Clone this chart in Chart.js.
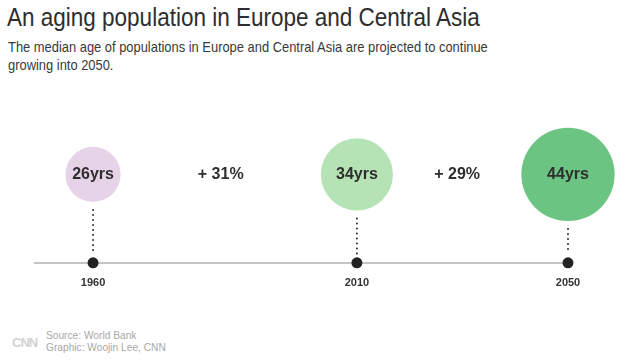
<!DOCTYPE html>
<html>
<head>
<meta charset="utf-8">
<script src="https://cdn.jsdelivr.net/npm/chart.js@4.4.0/dist/chart.umd.min.js"></script>
<style>
  body { margin: 0; width: 624px; height: 363px; background: #fff; position: relative; overflow: hidden; font-family: "Liberation Sans", Arial, sans-serif; }
  #title { position: absolute; left: 7px; top: 3px; font-size: 25px; color: #2e2e2e; white-space: nowrap; transform: scaleX(0.9); transform-origin: 0 0; }
  #sub { position: absolute; left: 8px; top: 38px; font-size: 15px; line-height: 18px; color: #3a3a3a; white-space: nowrap; transform: scaleX(0.86); transform-origin: 0 0; }
  #wrap { position: absolute; left: 0; top: 86px; width: 624px; height: 218px; }
  #logo { position: absolute; left: 12px; top: 335px; font-size: 13px; font-weight: bold; color: #d2d2d2; letter-spacing: -1px; }
  #src { position: absolute; left: 46px; top: 329px; font-size: 10.5px; line-height: 12px; color: #a8a8a8; white-space: nowrap; transform: scaleX(0.97); transform-origin: 0 0; }
</style>
</head>
<body>
<div id="title">An aging population in Europe and Central Asia</div>
<div id="sub">The median age of populations in Europe and Central Asia are projected to continue<br>growing into 2050.</div>
<div id="wrap"><canvas id="ageChart"></canvas></div>
<div id="logo">CNN</div>
<div id="src">Source: World Bank<br>Graphic: Woojin Lee, CNN</div>
<script>
var years = [1960, 2010, 2050];
var ages = [26, 34, 44];
var ageLabels = ['26yrs', '34yrs', '44yrs'];
var bubbleColors = ['#e7d3e8', '#b5e3b6', '#6cc482'];
var axisStart = 1949;

var radiusPerYear = 1.06;
var labelFont = '"Liberation Sans", Arial, sans-serif';

var labelPlugin = {
    id: 'labelPlugin',
    afterDatasetsDraw: function (chart) {
        var ctx = chart.ctx;
        var ys = chart.scales.y;
        var bubbles = chart.getDatasetMeta(0).data;
        var axisY = ys.getPixelForValue(0);
        ctx.save();

        // dotted stems
        ctx.strokeStyle = '#2a2a2a';
        ctx.lineWidth = 2;
        ctx.lineCap = 'round';
        ctx.setLineDash([0, 5]);
        bubbles.forEach(function (b, i) {
            var r = ages[i] * radiusPerYear;
            ctx.beginPath();
            ctx.moveTo(b.x, b.y + r + 8);
            ctx.lineTo(b.x, axisY - 9);
            ctx.stroke();
        });
        ctx.setLineDash([]);

        // text in bubbles
        ctx.fillStyle = '#2e2e2e';
        ctx.textAlign = 'center';
        ctx.textBaseline = 'middle';
        ctx.font = 'bold 16px ' + labelFont;
        bubbles.forEach(function (b, i) {
            ctx.fillText(ageLabels[i], b.x, b.y);
        });

        // growth between bubbles
        for (var i = 1; i < ages.length; i++) {
            var pct = Math.round((ages[i] - ages[i - 1]) / ages[i - 1] * 100);
            var left = bubbles[i - 1].x + ages[i - 1] * radiusPerYear;
            var right = bubbles[i].x - ages[i] * radiusPerYear;
            ctx.fillText('+ ' + pct + '%', (left + right) / 2, bubbles[i].y);
        }
        ctx.restore();
    }
};

var ctx = document.getElementById('ageChart');
var myChart = new Chart(ctx, {
    type: 'bubble',
    data: {
        datasets: [{
            data: years.map(function (y, i) { return { x: y, y: 1, r: ages[i] * radiusPerYear }; }),
            backgroundColor: bubbleColors,
            borderWidth: 0,
            hoverRadius: 0,
            clip: false
        }, {
            type: 'scatter',
            data: years.map(function (y) { return { x: y, y: 0 }; }),
            pointRadius: 5.5,
            backgroundColor: '#222',
            borderWidth: 0,
            clip: false
        }]
    },
    options: {
        responsive: true,
        maintainAspectRatio: false,
        animation: false,
        events: [],
        layout: { autoPadding: false, padding: { left: 35, right: 56, top: 0, bottom: 0 } },
        plugins: { legend: { display: false }, tooltip: { enabled: false } },
        scales: {
            x: {
                type: 'linear',
                min: axisStart,
                max: years[years.length - 1],
                grid: { display: false, drawTicks: false },
                border: { display: true, color: '#c4c4c4', width: 2 },
                afterBuildTicks: function (axis) {
                    axis.ticks = years.map(function (v) { return { value: v }; });
                },
                ticks: {
                    autoSkip: false,
                    maxRotation: 0,
                    padding: 14,
                    color: '#333',
                    font: { family: labelFont, size: 11, weight: 'bold' },
                    callback: function (v) { return String(v); }
                }
            },
            y: { display: false, min: 0, max: 2 }
        }
    },
    plugins: [labelPlugin]
});
</script>
</body>
</html>
